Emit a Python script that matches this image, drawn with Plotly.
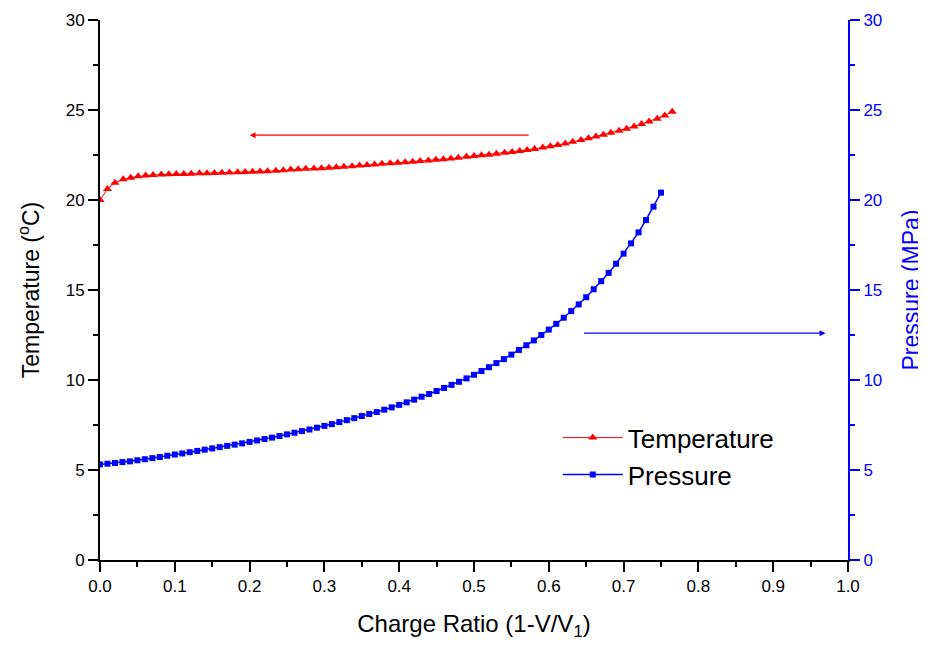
import plotly.graph_objects as go

temp_x = [0.000, 0.010, 0.020, 0.031, 0.041, 0.051, 0.061, 0.071, 0.082, 0.092,
          0.102, 0.112, 0.122, 0.133, 0.143, 0.153, 0.163, 0.173, 0.184, 0.194,
          0.204, 0.214, 0.224, 0.235, 0.245, 0.255, 0.265, 0.275, 0.286, 0.296,
          0.306, 0.316, 0.326, 0.337, 0.347, 0.357, 0.367, 0.377, 0.388, 0.398,
          0.408, 0.418, 0.428, 0.439, 0.449, 0.459, 0.469, 0.479, 0.490, 0.500,
          0.510, 0.520, 0.530, 0.541, 0.551, 0.561, 0.571, 0.581, 0.592, 0.602,
          0.612, 0.622, 0.632, 0.643, 0.653, 0.663, 0.673, 0.683, 0.694, 0.704,
          0.714, 0.724, 0.734, 0.745, 0.755, 0.765]
temperature = [20.00, 20.61, 20.96, 21.15, 21.24, 21.32, 21.36, 21.39, 21.41, 21.43,
               21.44, 21.45, 21.46, 21.48, 21.49, 21.50, 21.52, 21.53, 21.54, 21.56,
               21.57, 21.58, 21.60, 21.62, 21.65, 21.69, 21.71, 21.73, 21.75, 21.77,
               21.79, 21.82, 21.85, 21.88, 21.91, 21.94, 21.97, 22.01, 22.04, 22.07,
               22.10, 22.13, 22.17, 22.20, 22.23, 22.26, 22.30, 22.35, 22.40, 22.44,
               22.48, 22.52, 22.57, 22.62, 22.67, 22.72, 22.78, 22.84, 22.91, 22.98,
               23.06, 23.14, 23.23, 23.33, 23.43, 23.53, 23.63, 23.74, 23.85, 23.96,
               24.09, 24.22, 24.36, 24.51, 24.69, 24.90]

press_x = [0.00, 0.01, 0.02, 0.03, 0.04, 0.05, 0.06, 0.07, 0.08, 0.09,
           0.10, 0.11, 0.12, 0.13, 0.14, 0.15, 0.16, 0.17, 0.18, 0.19,
           0.20, 0.21, 0.22, 0.23, 0.24, 0.25, 0.26, 0.27, 0.28, 0.29,
           0.30, 0.31, 0.32, 0.33, 0.34, 0.35, 0.36, 0.37, 0.38, 0.39,
           0.40, 0.41, 0.42, 0.43, 0.44, 0.45, 0.46, 0.47, 0.48, 0.49,
           0.50, 0.51, 0.52, 0.53, 0.54, 0.55, 0.56, 0.57, 0.58, 0.59,
           0.60, 0.61, 0.62, 0.63, 0.64, 0.65, 0.66, 0.67, 0.68, 0.69,
           0.70, 0.71, 0.72, 0.73, 0.74, 0.75]
pressure = [5.31, 5.35, 5.39, 5.44, 5.48, 5.54, 5.60, 5.66, 5.72, 5.79,
            5.86, 5.92, 5.99, 6.06, 6.13, 6.20, 6.27, 6.34, 6.41, 6.48,
            6.56, 6.64, 6.72, 6.80, 6.89, 6.98, 7.07, 7.16, 7.25, 7.35,
            7.45, 7.55, 7.66, 7.77, 7.88, 8.00, 8.11, 8.22, 8.35, 8.48,
            8.62, 8.76, 8.91, 9.07, 9.22, 9.39, 9.56, 9.73, 9.90, 10.09,
            10.29, 10.50, 10.71, 10.94, 11.16, 11.41, 11.67, 11.93, 12.20, 12.50,
            12.80, 13.12, 13.46, 13.83, 14.20, 14.60, 15.04, 15.49, 15.95, 16.46,
            17.02, 17.59, 18.20, 18.89, 19.63, 20.41]

x_ticks = [0.0, 0.1, 0.2, 0.3, 0.4, 0.5, 0.6, 0.7, 0.8, 0.9, 1.0]
y_ticks = [0, 5, 10, 15, 20, 25, 30]

RED = "#FF0000"
BLUE = "#0000FF"
FONT = "Liberation Sans, Arial, sans-serif"

fig = go.Figure()
fig.add_trace(go.Scatter(
    x=temp_x, y=temperature, name="Temperature", mode="lines+markers",
    line=dict(color=RED, width=1),
    marker=dict(symbol="triangle-up", size=8, color=RED),
))
fig.add_trace(go.Scatter(
    x=press_x, y=pressure, name="Pressure", mode="lines+markers", yaxis="y2",
    line=dict(color=BLUE, width=1.5),
    marker=dict(symbol="square", size=6, color=BLUE),
))

# direction arrows
fig.add_annotation(x=0.2, y=23.6, ax=0.575, ay=23.6, xref="x", yref="y",
                   axref="x", ayref="y", showarrow=True, text="",
                   arrowhead=2, arrowsize=1, arrowwidth=1.2, arrowcolor=RED)
fig.add_annotation(x=0.97, y=12.6, ax=0.645, ay=12.6, xref="x", yref="y2",
                   axref="x", ayref="y2", showarrow=True, text="",
                   arrowhead=2, arrowsize=1, arrowwidth=1.2, arrowcolor=BLUE)

fig.update_layout(
    width=926, height=645,
    margin=dict(l=92, r=86, t=12, b=93, autoexpand=False),
    paper_bgcolor="white", plot_bgcolor="white",
    font=dict(family=FONT, size=17, color="black"),
    showlegend=True,
    legend=dict(x=0.612, y=0.27, xanchor="left", yanchor="top",
                bgcolor="rgba(0,0,0,0)", font=dict(size=26, family=FONT),
                itemwidth=60, tracegroupgap=0),
    xaxis=dict(
        range=[0, 1.0], tickvals=x_ticks, tickformat=".1f", automargin=False,
        showgrid=False, zeroline=False,
        showline=True, linecolor="black", linewidth=2,
        ticks="outside", ticklen=10, tickwidth=2, tickcolor="black",
        minor=dict(dtick=0.05, ticks="outside", ticklen=5, tickwidth=2, tickcolor="black"),
        tickfont=dict(size=17),
        title=dict(text="Charge Ratio (1-V/V<sub>1</sub>)", font=dict(size=24), standoff=20),
    ),
    yaxis=dict(
        range=[0, 30], tickvals=y_ticks, automargin=False,
        showgrid=False, zeroline=False,
        showline=True, linecolor="black", linewidth=2,
        ticks="outside", ticklen=10, tickwidth=2, tickcolor="black",
        minor=dict(dtick=2.5, ticks="outside", ticklen=5, tickwidth=2, tickcolor="black"),
        tickfont=dict(size=17),
        title=dict(text="Temperature (<sup>o</sup>C)", font=dict(size=23), standoff=20),
    ),
    yaxis2=dict(
        range=[0, 30], tickvals=y_ticks, overlaying="y", side="right", automargin=False,
        showgrid=False, zeroline=False,
        showline=True, linecolor=BLUE, linewidth=2,
        ticks="outside", ticklen=10, tickwidth=2, tickcolor=BLUE,
        minor=dict(dtick=2.5, ticks="outside", ticklen=5, tickwidth=2, tickcolor=BLUE),
        tickfont=dict(size=17, color=BLUE),
        title=dict(text="Pressure (MPa)", font=dict(size=23, color=BLUE), standoff=22),
    ),
)

fig.write_html("out.html")
